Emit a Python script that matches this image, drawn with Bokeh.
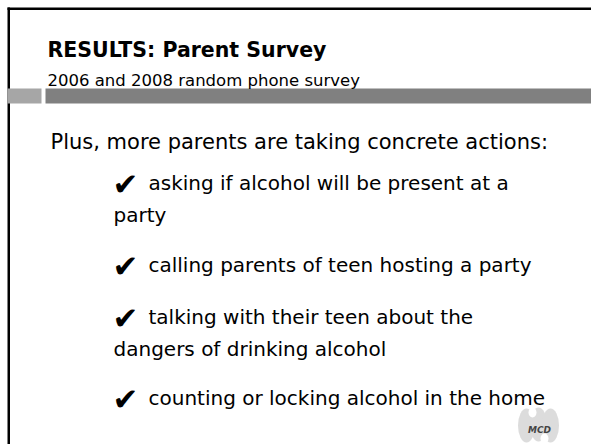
from bokeh.plotting import figure
from bokeh.models import Range1d
from bokeh.core.properties import value
from bokeh.embed import file_html
from bokeh.resources import INLINE

title = "RESULTS: Parent Survey"
subtitle = "2006 and 2008 random phone survey"
intro = "Plus, more parents are taking concrete actions:"
items = [
    ["asking if alcohol will be present at a", "party"],
    ["calling parents of teen hosting a party"],
    ["talking with their teen about the", "dangers of drinking alcohol"],
    ["counting or locking alcohol in the home"],
]
item_baselines = [182, 264, 316, 397]
line_gap = 32

FONT = "DejaVu Sans"
W, H = 591, 444

p = figure(width=W, height=H, output_backend="svg", toolbar_location=None,
           x_range=Range1d(0, W), y_range=Range1d(H, 0), min_border=0)
p.axis.visible = False
p.grid.visible = False
p.outline_line_color = None
p.background_fill_color = "white"
p.border_fill_color = "white"

# slide frame
p.quad(left=[7], right=[W], top=[7], bottom=[9.5], fill_color="black", line_color=None)
p.quad(left=[7], right=[9.5], top=[7], bottom=[H], fill_color="black", line_color=None)
# header bar
p.quad(left=[7], right=[41], top=[88], bottom=[103], fill_color="#a6a6a6", line_color=None)
p.quad(left=[45], right=[W], top=[88], bottom=[103], fill_color="#808080", line_color=None)

# title texts
p.text(x=[47], y=[49], text=[title], text_font=value(FONT), text_font_style="bold",
       text_font_size="20.5px", text_color="black", text_baseline="alphabetic")
p.text(x=[47], y=[80], text=[subtitle], text_font=value(FONT),
       text_font_size="16.5px", text_color="black", text_baseline="alphabetic")
p.text(x=[50], y=[141], text=[intro], text_font=value(FONT),
       text_font_size="21px", text_color="black", text_baseline="alphabetic")

for lines, base in zip(items, item_baselines):
    p.text(x=[112], y=[base + 1], text=["\u2714"], text_font=value(FONT),
           text_font_size="31px", text_color="black",
           text_baseline="alphabetic")
    p.text(x=[148], y=[base], text=[lines[0]], text_font=value(FONT),
           text_font_size="20px", text_color="black", text_baseline="alphabetic")
    for k, extra in enumerate(lines[1:], start=1):
        p.text(x=[113], y=[base + k * line_gap], text=[extra], text_font=value(FONT),
               text_font_size="20px", text_color="black", text_baseline="alphabetic")

# MCD logo (approximate)
p.ellipse(x=[526, 538, 550], y=[425, 424, 425], width=[17, 17, 17], height=[34, 34, 34],
          fill_color="#dcdcdc", line_color=None)
p.ellipse(x=[532, 544], y=[412, 438], width=[8, 8], height=[10, 10],
          fill_color="white", line_color=None)
p.text(x=[539], y=[429], text=["MCD"], text_font=value(FONT), text_font_style="bold italic",
       text_font_size="9px", text_color="#444444", text_align="center",
       text_baseline="alphabetic")

open("out.html", "w").write(file_html(p, INLINE))
